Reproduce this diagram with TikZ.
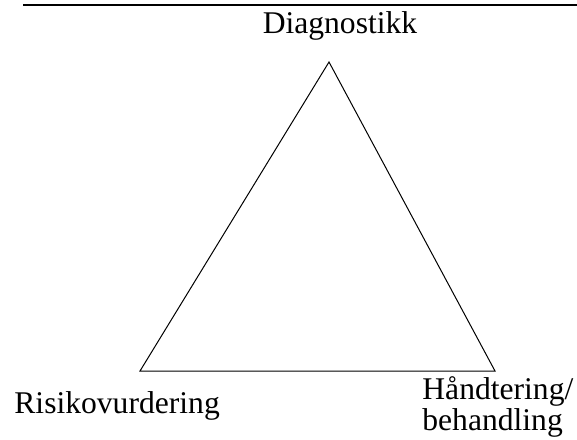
\documentclass[tikz,border=0pt]{standalone}
\usepackage{fontspec}
\setmainfont{Liberation Serif}
\usetikzlibrary{calc}

\begin{document}
\begin{tikzpicture}[x=0.5pt, y=-0.5pt,
    corner/.style={inner sep=0pt, align=left, font=\fontsize{15.8}{12.5}\selectfont}]
    \useasboundingbox (0,0) rectangle (577,439);
    \coordinate (RuleL) at (23, 5);
    \coordinate (RuleR) at (577, 5);
    \coordinate (VTop) at (329, 62);
    \coordinate (VLeft) at (140, 371);
    \coordinate (VRight) at (495, 371);
    \draw[line width=1.1pt] (RuleL) -- (RuleR);
    \draw[line width=0.5pt] (VTop) -- (VLeft) -- (VRight) -- cycle;
    \node[corner, anchor=base] (diag) at (340, 33) {Diagnostikk};
    \node[corner, anchor=base west] (risk) at (14, 413) {Risikovurdering};
    \node[corner, anchor=base west] (hand) at (422, 430) {Håndtering/\\behandling};
\end{tikzpicture}
\end{document}
